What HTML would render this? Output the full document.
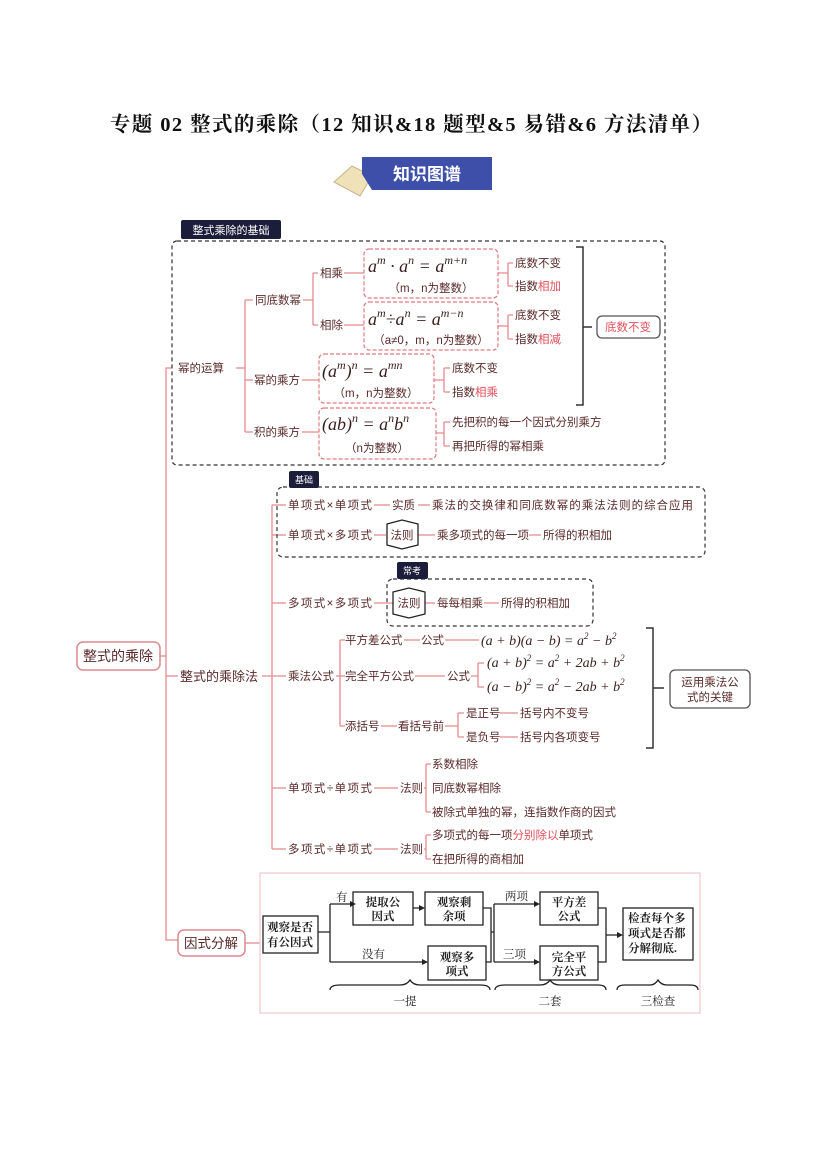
<!DOCTYPE html>
<html><head><meta charset="utf-8"><style>
html,body{margin:0;padding:0;background:#fff;}
svg{display:block;font-family:"Liberation Sans","Noto Sans CJK SC",sans-serif;}
.t{font-size:11.5px;fill:#5a2a2a;}
.r{fill:#e0505a;}
.m{font-family:"Liberation Serif","Noto Serif CJK SC",serif;font-style:italic;fill:#3a2020;}
.fc{font-family:"Liberation Serif","Noto Serif CJK SC",serif;font-size:11.5px;fill:#222;font-weight:bold;}
</style></head><body>
<svg width="827" height="1169" viewBox="0 0 827 1169" xmlns="http://www.w3.org/2000/svg">
<text x="110" y="131" textLength="602" lengthAdjust="spacing" style="font-family:'Liberation Serif','Noto Serif CJK SC',serif;font-weight:bold;font-size:20.5px" fill="#111">专题 02  整式的乘除（12 知识&amp;18 题型&amp;5 易错&amp;6 方法清单）</text>
<path d="M334 182 L352 166 L372 176 L360 196 Z" fill="#efe2b8" stroke="#c9b48a"/>
<path d="M362 157 L492 157 L492 190 L372 190 L362 174 Z" fill="#3d4fa8"/>
<text x="427" y="180" text-anchor="middle" font-size="17" font-weight="bold" fill="#fff">知识图谱</text>

<g fill="none" stroke="#e58a8e" stroke-width="1.3">
<path d="M172 368 L166 368 L166 940 L178 940"/>
<path d="M160 656 L166 656"/>
<path d="M166 676 L178 676"/>
<path d="M236 368 L245 368 M245 300 L245 432 M245 300 L253 300 M245 380 L253 380 M245 432 L253 432"/>
<path d="M303 300 L313 300 M313 273 L313 325 M313 273 L318 273 M313 325 L318 325"/>
<path d="M344 273 L364 273 M344 325 L364 325 M302 380 L319 380 M302 432 L319 432"/>
<path d="M498 273 L508 273 M508 263 L508 286 M508 263 L513 263 M508 286 L513 286"/>
<path d="M498 326 L508 326 M508 315 L508 339 M508 315 L513 315 M508 339 L513 339"/>
<path d="M434 380 L444 380 M444 368 L444 392 M444 368 L450 368 M444 392 L450 392"/>
<path d="M436 433 L444 433 M444 422 L444 446 M444 422 L450 422 M444 446 L450 446"/>
<path d="M262 676 L272 676 M272 505 L272 849"/>
<path d="M272 505 L286 505 M272 535 L286 535 M272 603 L286 603 M272 676 L286 676 M272 788 L286 788 M272 849 L286 849"/>
<path d="M374 505 L390 505 M418 505 L430 505 M374 535 L386 535 M418 535 L435 535 M529 535 L541 535"/>
<path d="M374 603 L393 603 M425 603 L435 603 M484 603 L499 603"/>
<path d="M336 676 L340 676 M340 640 L340 726 M340 640 L345 640 M340 676 L345 676 M340 726 L345 726"/>
<path d="M404 640 L420 640 M445 640 L479 640 M415 676 L445 676 M471 676 L478 676 M478 663 L478 687 M478 663 L484 663 M478 687 L484 687"/>
<path d="M381 726 L397 726 M445 726 L458 726 M458 713 L458 737 M458 713 L464 713 M458 737 L464 737 M500 713 L518 713 M500 737 L518 737"/>
<path d="M374 788 L398 788 M424 788 L426 788 M426 764 L426 812 M426 764 L431 764 M426 812 L431 812"/>
<path d="M374 849 L398 849 M424 849 L426 849 M426 835 L426 859 M426 835 L431 835 M426 859 L431 859"/>
<path d="M245 943 L260 943"/>
</g>
<rect x="172" y="241" width="493" height="224" rx="5" fill="none" stroke="#333" stroke-width="1.2" stroke-dasharray="4 3"/>
<rect x="277" y="487" width="428" height="70" rx="6" fill="none" stroke="#333" stroke-width="1.2" stroke-dasharray="4 3"/>
<rect x="387" y="579" width="206" height="47" rx="6" fill="none" stroke="#333" stroke-width="1.2" stroke-dasharray="4 3"/>
<rect x="181" y="220" width="100" height="19" rx="2" fill="#1c1d3a"/>
<text x="231" y="234" text-anchor="middle" font-size="11" fill="#fff">整式乘除的基础</text>
<rect x="289" y="471" width="30" height="17" rx="2" fill="#1c1d3a"/>
<text x="304" y="483" text-anchor="middle" font-size="9" fill="#fff">基础</text>
<rect x="397" y="562" width="31" height="17" rx="2" fill="#1c1d3a"/>
<text x="412" y="574" text-anchor="middle" font-size="9" fill="#fff">常考</text>
<g fill="#fff" stroke="#e07a80" stroke-width="1.2" stroke-dasharray="4 2">
<rect x="364" y="249" width="134" height="49" rx="5"/>
<rect x="364" y="302" width="134" height="48" rx="5"/>
<rect x="319" y="354" width="115" height="49" rx="5"/>
<rect x="319" y="408" width="117" height="51" rx="5"/>
</g>
<g class="m">
<text x="368" y="272" font-size="18">a<tspan font-size="12" dy="-8">m</tspan><tspan dy="8"> · a</tspan><tspan font-size="12" dy="-8">n</tspan><tspan dy="8"> = a</tspan><tspan font-size="12" dy="-8">m+n</tspan></text>
<text x="368" y="325" font-size="18">a<tspan font-size="12" dy="-8">m</tspan><tspan dy="8">÷a</tspan><tspan font-size="12" dy="-8">n</tspan><tspan dy="8"> = a</tspan><tspan font-size="12" dy="-8">m−n</tspan></text>
<text x="322" y="377" font-size="18">(a<tspan font-size="12" dy="-8">m</tspan><tspan dy="8">)</tspan><tspan font-size="12" dy="-8">n</tspan><tspan dy="8"> = a</tspan><tspan font-size="12" dy="-8">mn</tspan></text>
<text x="322" y="430" font-size="18">(ab)<tspan font-size="12" dy="-8">n</tspan><tspan dy="8"> = a</tspan><tspan font-size="12" dy="-8">n</tspan><tspan dy="8">b</tspan><tspan font-size="12" dy="-8">n</tspan></text>
</g>
<g class="t" font-size="11">
<text x="431" y="292" text-anchor="middle">（m，n为整数）</text>
<text x="431" y="344" text-anchor="middle">（a≠0，m，n为整数）</text>
<text x="376" y="397" text-anchor="middle">（m，n为整数）</text>
<text x="377" y="452" text-anchor="middle">（n为整数）</text>
</g>
<g class="t">
<text x="178" y="372">幂的运算</text>
<text x="255" y="304">同底数幂</text>
<text x="320" y="277">相乘</text>
<text x="320" y="329">相除</text>
<text x="254" y="384">幂的乘方</text>
<text x="254" y="436">积的乘方</text>
<text x="515" y="267">底数不变</text>
<text x="515" y="290">指数<tspan class="r">相加</tspan></text>
<text x="515" y="319">底数不变</text>
<text x="515" y="343">指数<tspan class="r">相减</tspan></text>
<text x="452" y="372">底数不变</text>
<text x="452" y="396">指数<tspan class="r">相乘</tspan></text>
<text x="452" y="426">先把积的每一个因式分别乘方</text>
<text x="452" y="450">再把所得的幂相乘</text>
</g>
<path d="M576 247 L583 247 L583 405 L576 405 M583 327 L592 327" fill="none" stroke="#333" stroke-width="1.5"/>
<rect x="597" y="316" width="63" height="22" rx="5" fill="#fff" stroke="#555" stroke-width="1.3"/>
<text x="628" y="331" text-anchor="middle" font-size="11.5" class="r">底数不变</text>

<rect x="77" y="642" width="83" height="28" rx="6" fill="#fff" stroke="#d88a8e" stroke-width="1.5"/>
<text x="118" y="661" text-anchor="middle" font-size="14" fill="#5a2a2a">整式的乘除</text>
<rect x="178" y="930" width="67" height="26" rx="6" fill="#fff" stroke="#d88a8e" stroke-width="1.5"/>
<text x="211" y="948" text-anchor="middle" font-size="13.5" fill="#5a2a2a">因式分解</text>

<g class="t">
<text x="180" y="681" font-size="13">整式的乘除法</text>
<text x="288" y="509" textLength="84">单项式×单项式</text>
<text x="392" y="509">实质</text>
<text x="432" y="509" textLength="261">乘法的交换律和同底数幂的乘法法则的综合应用</text>
<text x="288" y="539" textLength="84">单项式×多项式</text>
<text x="437" y="539">乘多项式的每一项</text>
<text x="543" y="539">所得的积相加</text>
<text x="288" y="607" textLength="84">多项式×多项式</text>
<text x="437" y="607">每每相乘</text>
<text x="501" y="607">所得的积相加</text>
<text x="288" y="680">乘法公式</text>
<text x="345" y="644">平方差公式</text>
<text x="421" y="644">公式</text>
<text x="345" y="680">完全平方公式</text>
<text x="447" y="680">公式</text>
<text x="345" y="730">添括号</text>
<text x="398" y="730">看括号前</text>
<text x="466" y="717">是正号</text>
<text x="520" y="717">括号内不变号</text>
<text x="466" y="741">是负号</text>
<text x="520" y="741">括号内各项变号</text>
<text x="288" y="792" textLength="84">单项式÷单项式</text>
<text x="400" y="792">法则</text>
<text x="432" y="768">系数相除</text>
<text x="432" y="792">同底数幂相除</text>
<text x="432" y="816">被除式单独的幂，连指数作商的因式</text>
<text x="288" y="853" textLength="84">多项式÷单项式</text>
<text x="400" y="853">法则</text>
<text x="432" y="839">多项式的每一项<tspan class="r">分别除以</tspan>单项式</text>
<text x="432" y="863">在把所得的商相加</text>
</g>
<g class="m" font-size="14">
<text x="481" y="645">(a + b)(a − b) = a<tspan font-size="9" dy="-6">2</tspan><tspan dy="6"> − b</tspan><tspan font-size="9" dy="-6">2</tspan></text>
<text x="487" y="667">(a + b)<tspan font-size="9" dy="-6">2</tspan><tspan dy="6"> = a</tspan><tspan font-size="9" dy="-6">2</tspan><tspan dy="6"> + 2ab + b</tspan><tspan font-size="9" dy="-6">2</tspan></text>
<text x="487" y="691">(a − b)<tspan font-size="9" dy="-6">2</tspan><tspan dy="6"> = a</tspan><tspan font-size="9" dy="-6">2</tspan><tspan dy="6"> − 2ab + b</tspan><tspan font-size="9" dy="-6">2</tspan></text>
</g>
<path d="M387 524 L402 520 L418 524 L418 545 L402 549 L387 545 Z" fill="#fff" stroke="#222" stroke-width="1.3"/>
<text x="402" y="539" text-anchor="middle" class="t">法则</text>
<path d="M393 592 L409 588 L425 592 L425 614 L409 618 L393 614 Z" fill="#fff" stroke="#222" stroke-width="1.3"/>
<text x="409" y="607" text-anchor="middle" class="t">法则</text>
<path d="M646 628 L653 628 L653 748 L646 748 M653 688 L664 688" fill="none" stroke="#333" stroke-width="1.5"/>
<rect x="670" y="670" width="80" height="38" rx="5" fill="#fff" stroke="#555" stroke-width="1.3"/>
<text x="710" y="686" text-anchor="middle" class="t">运用乘法公</text>
<text x="710" y="701" text-anchor="middle" class="t">式的关键</text>

<rect x="260" y="873" width="440" height="140" fill="#fff" stroke="#f0c8cc" stroke-width="1.2"/>
<g fill="#fff" stroke="#222" stroke-width="1.3">
<rect x="263" y="916" width="55" height="37"/>
<rect x="353" y="892" width="60" height="33"/>
<rect x="425" y="892" width="58" height="33"/>
<rect x="428" y="946" width="58" height="34"/>
<rect x="540" y="892" width="58" height="33"/>
<rect x="540" y="946" width="58" height="34"/>
<rect x="623" y="908" width="70" height="52"/>
</g>
<g fill="none" stroke="#222" stroke-width="1.3">
<path d="M318 932 L330 932 M330 904 L330 962 M330 904 L350 904 M330 962 L425 962 M413 908 L422 908"/>
<path d="M483 908 L491 908 L491 962 L486 962 M491 932 L494 932 M494 904 L494 962 M494 904 L537 904 M494 962 L537 962"/>
<path d="M598 908 L606 908 L606 962 L598 962 M606 935 L620 935"/>
<path d="M330 990 Q330 985 340 985 L400 985 Q407 985 410 980 Q413 985 420 985 L480 985 Q490 985 490 990"/>
<path d="M495 990 Q495 985 505 985 L540 985 Q547 985 550 980 Q553 985 560 985 L598 985 Q606 985 606 990"/>
<path d="M617 990 Q617 985 625 985 L650 985 Q655 985 658 980 Q661 985 667 985 L690 985 Q698 985 698 990"/>
</g>
<g fill="#222">
<path d="M350 901 L356 904 L350 907 Z"/><path d="M419 905 L425 908 L419 911 Z"/>
<path d="M422 959 L428 962 L422 965 Z"/><path d="M534 901 L540 904 L534 907 Z"/>
<path d="M534 959 L540 962 L534 965 Z"/><path d="M617 932 L623 935 L617 938 Z"/>
</g>
<g class="fc">
<text x="290" y="931" text-anchor="middle">观察是否</text><text x="290" y="946" text-anchor="middle">有公因式</text>
<text x="383" y="906" text-anchor="middle">提取公</text><text x="383" y="920" text-anchor="middle">因式</text>
<text x="454" y="906" text-anchor="middle">观察剩</text><text x="454" y="920" text-anchor="middle">余项</text>
<text x="457" y="961" text-anchor="middle">观察多</text><text x="457" y="975" text-anchor="middle">项式</text>
<text x="569" y="906" text-anchor="middle">平方差</text><text x="569" y="920" text-anchor="middle">公式</text>
<text x="569" y="961" text-anchor="middle">完全平</text><text x="569" y="975" text-anchor="middle">方公式</text>
<text x="628" y="922">检查每个多</text><text x="628" y="937">项式是否都</text><text x="628" y="952">分解彻底.</text>
<text x="336" y="901" font-weight="normal">有</text>
<text x="362" y="958" font-weight="normal">没有</text>
<text x="505" y="900" font-weight="normal">两项</text>
<text x="503" y="958" font-weight="normal">三项</text>
<text x="405" y="1005" text-anchor="middle" font-weight="normal">一提</text>
<text x="550" y="1005" text-anchor="middle" font-weight="normal">二套</text>
<text x="658" y="1005" text-anchor="middle" font-weight="normal">三检查</text>
</g>
</svg>
</body></html>
